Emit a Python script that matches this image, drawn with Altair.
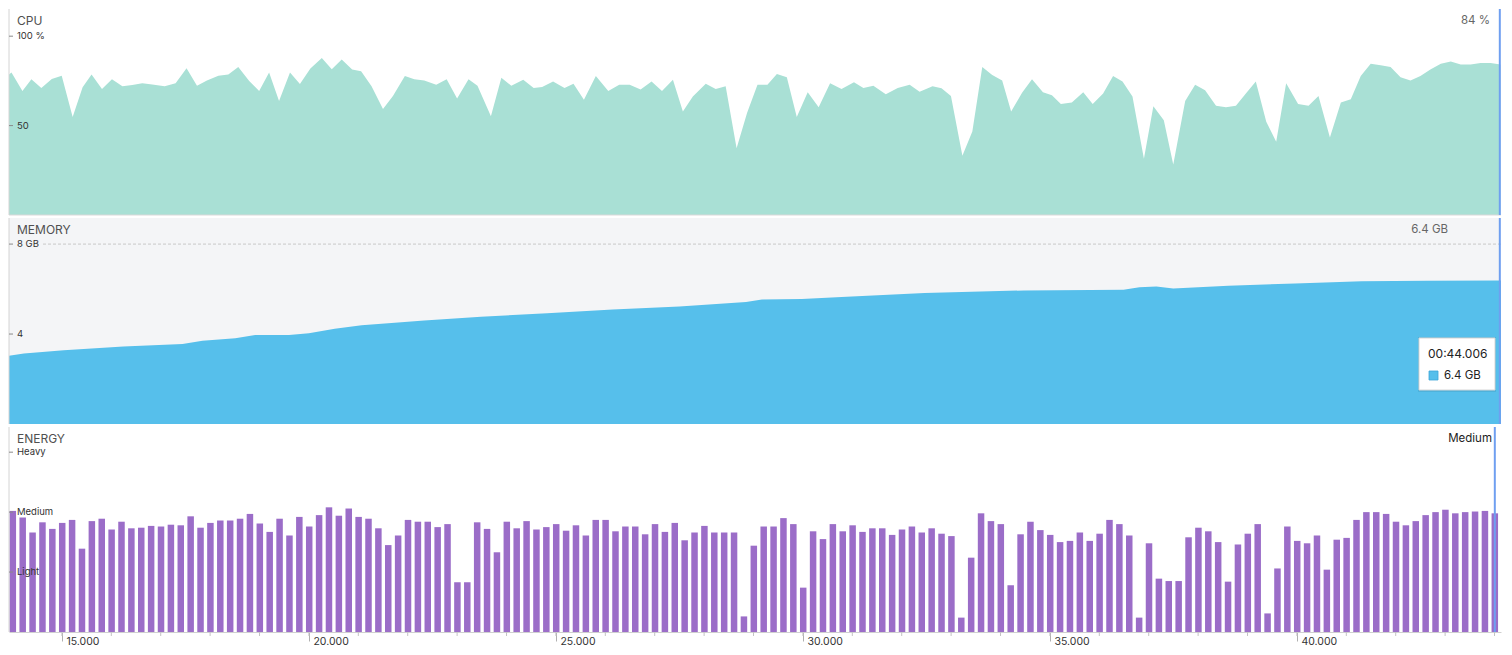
import altair as alt
import pandas as pd

FONT = "Inter"

# ---------------- data ----------------
cpu_time = [14.00, 14.08, 14.30, 14.48, 14.68, 14.89, 15.09, 15.31, 15.51, 15.69,
            15.90, 16.10, 16.31, 16.51, 16.71, 16.91, 17.16, 17.38, 17.60, 17.81,
            18.01, 18.24, 18.44, 18.64, 18.86, 19.06, 19.26, 19.46, 19.68, 19.88,
            20.09, 20.32, 20.52, 20.72, 20.93, 21.11, 21.32, 21.55, 21.75, 21.99,
            22.18, 22.38, 22.62, 22.83, 23.04, 23.27, 23.45, 23.72, 23.93, 24.13,
            24.37, 24.58, 24.75, 24.97, 25.20, 25.38, 25.59, 25.83, 26.08, 26.30,
            26.51, 26.73, 26.95, 27.16, 27.38, 27.58, 27.78, 28.04, 28.24, 28.44,
            28.66, 28.87, 29.08, 29.28, 29.47, 29.67, 29.87, 30.09, 30.31, 30.54,
            30.77, 31.02, 31.21, 31.41, 31.66, 31.90, 32.14, 32.34, 32.60, 32.78,
            32.97, 33.20, 33.40, 33.60, 33.80, 34.00, 34.18, 34.40, 34.60, 34.82,
            35.00, 35.18, 35.40, 35.63, 35.82, 36.03, 36.23, 36.42, 36.62, 36.85,
            37.04, 37.25, 37.44, 37.68, 37.88, 38.08, 38.30, 38.50, 38.70, 38.90,
            39.10, 39.31, 39.51, 39.71, 39.95, 40.16, 40.36, 40.59, 40.81, 41.01,
            41.21, 41.41, 41.61, 41.81, 42.01, 42.21, 42.41, 42.61, 42.82, 43.02,
            43.22, 43.42, 43.62, 43.82, 44.02]
cpu_pct = [78, 79.7, 69.3, 75.9, 71.0, 76.1, 77.9, 54.8, 71.4, 78.6,
           70.5, 75.9, 72.0, 72.7, 73.7, 73.0, 72.0, 73.7, 82.1, 72.3,
           75.2, 77.9, 78.6, 82.8, 75.0, 69.3, 79.7, 63.8, 79.7, 73.2,
           81.9, 87.8, 81.5, 86.9, 81.3, 80.4, 72.0, 59.3, 66.5, 77.7,
           75.9, 75.2, 72.9, 75.9, 65.1, 75.9, 72.3, 55.2, 76.8, 72.3,
           75.6, 71.0, 71.6, 74.7, 71.0, 73.4, 64.4, 77.7, 69.3, 72.9,
           72.9, 70.2, 74.7, 69.3, 75.6, 57.9, 66.2, 73.4, 70.5, 72.0,
           37.3, 57.0, 72.9, 72.9, 78.8, 77.0, 54.8, 68.7, 60.2, 73.7,
           70.5, 74.3, 71.0, 72.3, 67.5, 71.0, 72.9, 68.9, 72.0, 70.9,
           66.5, 33.2, 46.7, 82.8, 78.3, 75.2, 57.9, 68.3, 75.9, 68.7,
           66.9, 62.1, 62.9, 68.7, 62.1, 68.0, 77.7, 74.7, 66.2, 31.4,
           60.8, 53.0, 28.3, 63.8, 72.9, 69.8, 61.1, 60.2, 61.1, 68.0,
           74.7, 52.1, 41.0, 73.7, 62.1, 61.1, 66.5, 43.4, 62.9, 64.8,
           77.7, 84.6, 83.7, 82.8, 77.0, 75.2, 77.7, 81.3, 84.6, 85.9,
           84.1, 84.1, 85.0, 85.0, 84.2]

mem_time = [14.00, 14.33, 15.13, 16.33, 17.52, 17.92, 18.58, 18.98, 19.66, 20.06,
            20.58, 21.12, 21.72, 22.38, 23.52, 24.85, 26.17, 27.51, 28.85, 29.17,
            29.97, 30.77, 32.44, 34.44, 36.44, 36.76, 37.10, 37.44, 38.55, 39.89,
            41.23, 42.55, 44.04]
mem_gb = [3.02, 3.14, 3.28, 3.45, 3.56, 3.70, 3.81, 3.96, 3.96, 4.03,
          4.24, 4.39, 4.49, 4.60, 4.77, 4.92, 5.09, 5.23, 5.43, 5.54,
          5.56, 5.65, 5.82, 5.94, 5.97, 6.08, 6.11, 6.03, 6.15, 6.25,
          6.35, 6.37, 6.38]

# energy level: 0 = none, 1 = Light, 2 = Medium, 3 = Heavy (one sample every 0.2 s)
energy_level = [2.02, 1.91, 1.66, 1.83, 1.72, 1.82, 1.87, 1.39, 1.85, 1.89,
                1.71, 1.84, 1.73, 1.74, 1.77, 1.76, 1.79, 1.78, 1.93, 1.74,
                1.82, 1.86, 1.86, 1.89, 1.97, 1.81, 1.67, 1.89, 1.61, 1.92,
                1.76, 1.95, 2.08, 1.94, 2.06, 1.92, 1.89, 1.73, 1.45, 1.61,
                1.87, 1.84, 1.84, 1.75, 1.80, 0.83, 0.83, 1.83, 1.72, 1.33,
                1.84, 1.73, 1.85, 1.71, 1.75, 1.80, 1.69, 1.78, 1.61, 1.87,
                1.87, 1.68, 1.76, 1.76, 1.63, 1.80, 1.67, 1.82, 1.53, 1.66,
                1.77, 1.66, 1.66, 1.66, 0.26, 1.44, 1.76, 1.76, 1.90, 1.80,
                0.74, 1.68, 1.55, 1.80, 1.68, 1.78, 1.67, 1.73, 1.73, 1.62,
                1.71, 1.76, 1.66, 1.73, 1.64, 1.60, 0.24, 1.24, 1.98, 1.85,
                1.80, 0.78, 1.63, 1.84, 1.70, 1.62, 1.50, 1.52, 1.66, 1.52,
                1.64, 1.87, 1.80, 1.61, 0.24, 1.48, 0.89, 0.85, 0.85, 1.58,
                1.74, 1.68, 1.50, 0.84, 1.46, 1.64, 1.80, 0.31, 1.06, 1.76,
                1.52, 1.48, 1.61, 1.04, 1.54, 1.57, 1.87, 2.00, 2.00, 1.97,
                1.84, 1.78, 1.85, 1.95, 2.00, 2.04, 1.98, 2.00, 2.01, 2.02,
                1.98]
energy_start = 14.006
energy_step = 0.2
energy_time = [round(energy_start + energy_step * i, 3) for i in range(len(energy_level))]

cpu_tick_values = [100, 50]
cpu_tick_labels = ["100 %", "50"]
mem_tick_values = [8, 4]
mem_tick_labels = ["8 GB", "4"]
energy_tick_values = [3, 2, 1]
energy_tick_labels = ["Heavy", "Medium", "Light"]
x_major_ticks = [15, 20, 25, 30, 35, 40]
x_minor_ticks = [15, 16, 17, 18, 19, 20, 21, 22, 23, 24, 25, 26, 27, 28, 29,
                 30, 31, 32, 33, 34, 35, 36, 37, 38, 39, 40, 41, 42, 43, 44]

panel_titles = ["CPU", "MEMORY", "ENERGY"]
current_values = ["84 %", "6.4 GB", "Medium"]
now_time = 44.006
tooltip_time = "00:44.006"
tooltip_value = "6.4 GB"

# ---------------- layout ----------------
W = 1492
H_CPU, H_MEM, H_EN = 206, 206, 205
X_DOMAIN = [14.03, 44.03]

xs = alt.Scale(domain=X_DOMAIN, nice=False, zero=False)

cpu_df = pd.DataFrame({"t": cpu_time, "v": cpu_pct})
mem_df = pd.DataFrame({"t": mem_time, "v": mem_gb})
en_df = pd.DataFrame({"t": energy_time, "v": energy_level})
now_df = pd.DataFrame({"t": [now_time]})
one = pd.DataFrame({"k": [0]})


def const(text):
    return alt.Chart(pd.DataFrame({"label": [text]}))


def decorations(H, ys, tick_vals, tick_labels, title, value_text, value_dx,
                value_color, xaxis=None):
    tdf = pd.DataFrame({"v": tick_vals, "label": tick_labels})
    left_border = alt.Chart(one).mark_rule(color="#d4d4d4", strokeWidth=1).encode(
        x=alt.value(0), y=alt.value(0), y2=alt.value(H))
    ticks = alt.Chart(tdf).mark_rule(color="#8a8a8a", strokeWidth=1).encode(
        x=alt.value(0), x2=alt.value(4),
        y=alt.Y("v:Q", scale=ys, axis=None))
    labels = alt.Chart(tdf).mark_text(
        align="left", baseline="middle", fontSize=9.5, color="#333333").encode(
        x=alt.value(8), y=alt.Y("v:Q", scale=ys, axis=None), text="label:N")
    ttl = const(title).mark_text(
        align="left", baseline="middle", fontSize=12, color="#505050").encode(
        x=alt.value(8), y=alt.value(12), text="label:N")
    val = const(value_text).mark_text(
        align="right", baseline="middle", fontSize=11.5, color=value_color).encode(
        x=alt.value(W - value_dx), y=alt.value(12), text="label:N")
    xenc = alt.X("t:Q", scale=xs, axis=xaxis) if xaxis is not None else alt.X("t:Q", scale=xs, axis=None)
    now_line = alt.Chart(now_df).mark_rule(color="#6f9ff0", strokeWidth=2).encode(
        x=xenc, y=alt.value(0), y2=alt.value(H))
    return [left_border, ticks, labels, ttl, val, now_line]


# ---- CPU ----
ys_cpu = alt.Scale(domain=[0, 115.2], nice=False, zero=True)
cpu_area = alt.Chart(cpu_df).mark_area(color="#a9e0d5", clip=True, interpolate="linear").encode(
    x=alt.X("t:Q", scale=xs, axis=None),
    y=alt.Y("v:Q", scale=ys_cpu, axis=None))
cpu_sep = alt.Chart(one).mark_rule(color="#d9d9d9", strokeWidth=1).encode(
    x=alt.value(0), x2=alt.value(W), y=alt.value(H_CPU))
cpu = alt.layer(
    cpu_area, cpu_sep,
    *decorations(H_CPU, ys_cpu, cpu_tick_values, cpu_tick_labels,
                 panel_titles[0], current_values[0], 11, "#666666")
).properties(width=W, height=H_CPU)

# ---- MEMORY ----
ys_mem = alt.Scale(domain=[0, 9.16], nice=False, zero=True)
mem_bg = alt.Chart(one).mark_rect(color="#f4f5f7").encode(
    x=alt.value(0), x2=alt.value(W), y=alt.value(0), y2=alt.value(H_MEM))
mem_dash = alt.Chart(pd.DataFrame({"v": [mem_tick_values[0]]})).mark_rule(
    color="#c9c9c9", strokeDash=[3, 2], strokeWidth=1).encode(
    x=alt.value(34), x2=alt.value(W),
    y=alt.Y("v:Q", scale=ys_mem, axis=None))
mem_area = alt.Chart(mem_df).mark_area(color="#56bfeb", clip=True, interpolate="linear").encode(
    x=alt.X("t:Q", scale=xs, axis=None),
    y=alt.Y("v:Q", scale=ys_mem, axis=None))
TX = W - 6  # right edge of the tooltip box
tip_shadow = alt.Chart(one).mark_rect(color="#000000", opacity=0.07).encode(
    x=alt.value(TX - 77), x2=alt.value(TX + 1), y=alt.value(119), y2=alt.value(174))
tip_box = alt.Chart(one).mark_rect(color="#ffffff", stroke="#d6d6d6", strokeWidth=1).encode(
    x=alt.value(TX - 76), x2=alt.value(TX), y=alt.value(120), y2=alt.value(172))
tip_time = const(tooltip_time).mark_text(
    align="left", baseline="middle", fontSize=12, color="#222222").encode(
    x=alt.value(TX - 67), y=alt.value(136), text="label:N")
tip_sq = alt.Chart(one).mark_rect(color="#56bfeb", stroke="#3ea6d8", strokeWidth=0.8).encode(
    x=alt.value(TX - 66), x2=alt.value(TX - 57), y=alt.value(153), y2=alt.value(162))
tip_val = const(tooltip_value).mark_text(
    align="left", baseline="middle", fontSize=11.5, color="#222222").encode(
    x=alt.value(TX - 51), y=alt.value(157.5), text="label:N")
mem = alt.layer(
    mem_bg, mem_dash, mem_area,
    *decorations(H_MEM, ys_mem, mem_tick_values, mem_tick_labels,
                 panel_titles[1], current_values[1], 53, "#666666"),
    tip_shadow, tip_box, tip_time, tip_sq, tip_val
).properties(width=W, height=H_MEM)

# ---- ENERGY ----
ys_en = alt.Scale(domain=[0, 3.42], nice=False, zero=True)
x_axis = alt.Axis(values=x_major_ticks, format=".3f", tickSize=9, tickColor="#b0b0b0",
                  domainColor="#d0d0d0", grid=False, labelAlign="left", labelBaseline="top",
                  labelPadding=-5, labelOffset=4, labelFontSize=10.5, labelColor="#333333",
                  labelFont=FONT, labelFlush=False, labelOverlap=False, title=None)
en_bars = alt.Chart(en_df).mark_bar(width=6.5, color="#9b6dc8", clip=True).encode(
    x=alt.X("t:Q", scale=xs, axis=x_axis),
    y=alt.Y("v:Q", scale=ys_en, axis=None))
minor = alt.Chart(pd.DataFrame({"t": x_minor_ticks})).mark_rule(color="#c4c4c4").encode(
    x=alt.X("t:Q", scale=xs, axis=x_axis), y=alt.value(H_EN), y2=alt.value(H_EN + 4))
energy = alt.layer(
    en_bars, minor,
    *decorations(H_EN, ys_en, energy_tick_values, energy_tick_labels,
                 panel_titles[2], current_values[2], 9, "#222222", xaxis=x_axis)
).properties(width=W, height=H_EN)

chart = alt.vconcat(cpu, mem, energy, spacing=1).properties(
    padding=0, background="white"
).configure_view(strokeWidth=0).configure_text(font=FONT)

chart.save("out.html", embed_options={"renderer": "svg", "actions": False})
